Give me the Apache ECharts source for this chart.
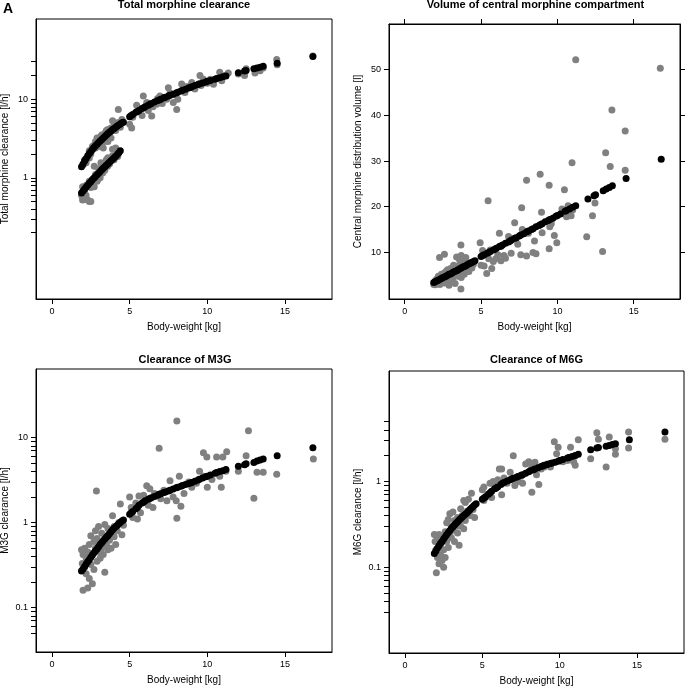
<!DOCTYPE html>
<html><head><meta charset="utf-8">
<script src="https://cdn.jsdelivr.net/npm/echarts@6.0.0/dist/echarts.min.js"></script>
<style>html,body{margin:0;padding:0;background:#fff}#c{width:685px;height:687px}</style>
</head><body><div id="c"></div>
<script>
// ---------- data ----------
const weightTicks = [0, 5, 10, 15];
const clTicks = [0.2,0.3,0.4,0.5,0.6,0.7,0.8,0.9,1,2,3,4,5,6,7,8,9,10,20,30];
const clTickLabels = [1, 10];
const vTicks = [10, 20, 30, 40, 50];
const m3gTicks = [0.05,0.06,0.07,0.08,0.09,0.1,0.2,0.3,0.4,0.5,0.6,0.7,0.8,0.9,1,2,3,4,5,6,7,8,9,10];
const m3gTickLabels = [0.1, 1, 10];
const m6gTicks = [0.03,0.04,0.05,0.06,0.07,0.08,0.09,0.1,0.2,0.3,0.4,0.5,0.6,0.7,0.8,0.9,1,2,3,4,5];
const m6gTickLabels = [0.1, 1];

// body-weights of the model-predicted points (black)
const predWeight = [1.9,2.0,2.1,2.2,2.3,2.4,2.5,2.6,2.7,2.8,2.9,3.0,3.1,3.2,3.3,3.4,3.5,3.6,3.7,3.8,3.9,4.0,4.1,4.2,4.3,4.4,4.5,4.6,
  5.0,5.1,5.2,5.4,5.5,5.6,5.8,5.9,6.0,6.2,6.3,6.4,6.6,6.8,6.9,7.0,7.2,7.3,7.5,7.6,7.8,8.0,8.1,8.3,8.4,8.6,8.8,8.9,9.0,9.2,9.4,9.5,9.7,9.9,10.0,10.2,10.5,10.6,10.8,11.0,11.2,
  12.0,12.4,12.5,13.0,13.2,13.4,13.6,14.5,16.8];
const lowGroupWeight = [1.9,2.0,2.1,2.2,2.3,2.4,2.5,2.6,2.7,2.8,2.9,3.0,3.1,3.2,3.3,3.4,3.5,3.6,3.7,3.8,3.9,4.0,4.1,4.2,4.3,4.4];

const clPred = [1.38,1.50,1.63,1.76,1.90,2.03,2.16,2.29,2.42,2.55,2.68,2.81,2.94,3.07,3.20,3.36,3.50,3.65,3.80,3.95,4.10,4.25,4.40,4.55,4.70,4.85,5.00,5.10,
  6.0,6.2,6.4,6.8,7.0,7.2,7.6,7.8,8.0,8.4,8.6,8.8,9.2,9.6,9.8,10.0,10.4,10.6,11.0,11.2,11.6,12.0,12.3,12.7,13.0,13.4,13.9,14.1,14.4,14.9,15.4,15.7,16.1,16.6,16.9,17.3,18.0,18.3,18.8,19.3,19.8,
  21.8,22.8,23.2,24.4,25.0,25.6,26.3,28.8,35.0];
const clPredLow = [0.64,0.68,0.72,0.76,0.80,0.85,0.89,0.94,0.99,1.04,1.09,1.14,1.20,1.26,1.32,1.38,1.44,1.51,1.58,1.65,1.72,1.80,1.88,1.98,2.08,2.20];
const vPred = [3.4,3.6,3.8,3.9,4.1,4.3,4.5,4.6,4.8,5.0,5.2,5.3,5.5,5.7,5.9,6.0,6.2,6.4,6.6,6.8,6.9,7.1,7.3,7.5,7.6,7.8,8.0,8.2,
  9.1,9.3,9.5,9.8,10.0,10.2,10.5,10.7,10.9,11.3,11.4,11.6,12.0,12.3,12.5,12.7,13.1,13.2,13.6,13.8,14.1,14.5,14.7,15.0,15.2,15.6,15.9,16.1,16.3,16.7,17.0,17.2,17.5,17.9,18.1,18.4,19.0,19.2,19.5,19.9,20.2,
  21.7,22.4,22.6,23.5,23.9,24.2,24.6,26.2,30.4];
const m3gPred = [0.27,0.285,0.305,0.325,0.345,0.365,0.39,0.415,0.44,0.465,0.49,0.52,0.55,0.58,0.61,0.64,0.67,0.70,0.74,0.78,0.82,0.86,0.89,0.93,0.97,1.0,1.04,1.07,
  1.25,1.3,1.35,1.45,1.5,1.6,1.7,1.75,1.8,1.88,1.92,1.96,2.03,2.1,2.15,2.18,2.25,2.28,2.35,2.4,2.48,2.56,2.6,2.68,2.72,2.8,2.88,2.92,2.96,3.06,3.17,3.22,3.34,3.45,3.5,3.62,3.8,3.87,3.98,4.08,4.2,
  4.6,4.8,4.9,5.1,5.3,5.45,5.6,6.1,7.6];
const m6gPred = [0.145,0.155,0.167,0.178,0.19,0.2,0.213,0.226,0.24,0.254,0.268,0.282,0.296,0.31,0.325,0.34,0.355,0.37,0.385,0.4,0.415,0.43,0.45,0.47,0.49,0.51,0.53,0.55,
  0.62,0.64,0.66,0.71,0.74,0.77,0.82,0.84,0.87,0.92,0.95,0.97,1.01,1.05,1.07,1.09,1.12,1.14,1.18,1.2,1.25,1.3,1.33,1.37,1.4,1.44,1.49,1.51,1.54,1.58,1.62,1.64,1.68,1.72,1.75,1.8,1.88,1.9,1.96,2.01,2.07,
  2.35,2.45,2.48,2.58,2.63,2.7,2.76,3.06,3.77];

// individual estimates (grey): [body-weight kg, value]
const clObs = [[2.0,1.45],[2.1,1.7],[2.2,1.55],[2.3,1.8],[2.4,1.78],[2.4,2.2],[2.5,2.0],[2.6,2.5],[2.6,2.3],[2.7,2.6],[2.8,2.4],[2.8,2.9],[2.9,2.6],[2.9,3.2],[3.0,2.5],[3.0,3.0],[3.1,2.8],[3.1,3.3],[3.2,2.6],[3.2,3.5],[3.3,3.0],[3.3,2.4],[3.4,3.7],[3.4,2.9],[3.5,3.2],[3.5,4.0],[3.6,2.9],[3.6,4.1],[3.7,3.5],[3.8,4.3],[3.8,3.2],[3.9,5.3],[3.9,4.0],[4.0,4.6],[4.1,4.0],[4.2,5.0],[4.27,7.4],[4.33,5.0],[4.4,4.4],[4.5,5.5],
  [1.9,0.6],[1.97,0.77],[1.97,0.52],[2.0,0.55],[2.1,0.65],[2.19,0.6],[2.2,0.8],[2.3,0.52],[2.4,0.5],[2.4,0.9],[2.5,0.75],[2.5,0.5],[2.6,0.95],[2.72,0.77],[2.72,1.4],[2.8,1.1],[2.9,0.9],[2.94,0.94],[3.0,1.3],[3.1,1.0],[3.15,1.55],[3.26,1.15],[3.3,1.4],[3.4,1.25],[3.5,1.7],[3.58,1.4],[3.6,1.8],[3.7,1.5],[3.8,1.7],[3.9,2.3],[3.9,1.9],[4.0,1.7],[4.1,2.4],[4.23,1.87],[4.3,2.1],
  [5.0,4.8],[5.13,4.3],[5.2,5.9],[5.24,6.4],[5.45,8.4],[5.67,7.4],[5.8,6.2],[5.88,11.0],[6.1,9.1],[6.2,7.2],[6.42,6.1],[6.5,8.0],[6.74,8.6],[6.8,10.2],[6.95,11.0],[7.1,8.8],[7.38,10.0],[7.49,14.0],[7.6,12.0],[7.81,9.1],[7.9,11.5],[8.03,7.4],[8.1,10.0],[8.35,15.6],[8.56,12.2],[8.7,14.5],[9.0,16.3],[9.2,13.5],[9.53,20.0],[9.6,15.0],[9.74,18.0],[10.0,16.0],[10.2,18.0],[10.4,15.5],[10.8,22.0],[10.93,17.2],[11.14,20.0],[11.35,21.5],
  [12.0,21.0],[12.4,20.0],[12.5,24.5],[13.07,21.5],[13.2,24.0],[13.4,23.0],[13.6,25.0],[14.47,32.0],[14.5,27.5],[16.8,35.5]];
const vObs = [[1.9,3.0],[2.0,3.8],[2.0,2.9],[2.1,4.2],[2.1,3.2],[2.2,3.5],[2.2,4.8],[2.28,8.9],[2.3,3.0],[2.4,4.0],[2.4,5.2],[2.5,3.6],[2.5,4.6],[2.6,9.6],[2.6,5.5],[2.6,3.3],[2.7,4.2],[2.7,5.8],[2.8,3.6],[2.8,6.2],[2.9,4.5],[2.9,2.8],[3.0,5.0],[3.0,6.5],[3.1,3.9],[3.1,5.8],[3.2,4.6],[3.2,7.2],[3.3,5.2],[3.3,3.2],[3.4,9.0],[3.4,6.3],[3.5,4.8],[3.5,7.0],[3.6,5.6],[3.6,8.3],[3.68,11.6],[3.68,2.0],[3.7,9.3],[3.7,4.5],[3.8,6.0],[3.8,7.6],[3.9,5.2],[3.9,8.2],[4.0,8.9],[4.0,6.5],[4.1,7.2],[4.2,5.8],[4.3,7.8],[4.4,6.6],[4.5,7.4],
  [4.94,12.1],[5.0,7.2],[5.1,10.4],[5.2,7.0],[5.37,5.4],[5.46,21.3],[5.5,8.6],[5.6,10.5],[5.7,6.5],[5.8,8.0],[5.96,8.6],[6.1,9.5],[6.2,14.2],[6.3,11.3],[6.3,8.2],[6.5,9.3],[6.6,8.7],[6.8,13.5],[6.97,9.8],[7.2,16.5],[7.3,13.0],[7.4,11.8],[7.6,9.5],[7.66,19.8],[7.7,15.0],[7.98,25.8],[7.98,9.2],[8.1,14.2],[8.4,10.0],[8.5,12.5],[8.6,9.7],[8.87,27.1],[8.96,18.8],[9.0,14.3],[9.46,24.7],[9.46,10.8],[9.5,15.6],[9.6,16.3],[9.8,13.7],[9.96,12.1],[10.3,19.5],[10.46,23.7],[10.6,17.8],[10.7,20.2],[10.9,18.0],[10.96,29.6],[11.0,19.3],[11.2,52.2],
  [11.92,13.4],[12.3,18.0],[12.46,20.8],[12.96,10.2],[13.16,31.8],[13.46,28.8],[13.57,41.2],[14.44,36.6],[14.44,28.0],[16.74,50.3]];
const m3gObs = [[1.9,0.48],[1.95,0.33],[2.0,0.16],[2.0,0.42],[2.1,0.5],[2.1,0.3],[2.2,0.38],[2.2,0.25],[2.3,0.17],[2.3,0.45],[2.4,0.22],[2.4,0.55],[2.5,0.32],[2.5,0.7],[2.6,0.19],[2.6,0.42],[2.7,0.6],[2.7,0.28],[2.8,0.5],[2.8,0.8],[2.86,2.35],[2.9,0.35],[2.9,0.65],[3.0,0.9],[3.0,0.45],[3.1,0.55],[3.1,0.38],[3.2,0.75],[3.2,0.5],[3.3,0.6],[3.3,0.42],[3.4,0.95],[3.4,0.26],[3.5,0.55],[3.5,0.7],[3.6,0.85],[3.6,0.48],[3.7,0.62],[3.8,0.75],[3.8,0.5],[3.9,1.2],[4.0,0.68],[4.0,0.9],[4.1,0.55],[4.2,0.8],[4.3,1.0],[4.4,1.65],[4.5,0.72],[4.6,0.93],
  [5.0,2.0],[5.1,1.5],[5.2,1.15],[5.4,1.7],[5.5,1.1],[5.6,2.05],[5.7,1.3],[5.9,2.1],[6.1,2.7],[6.2,1.6],[6.3,2.5],[6.5,1.5],[6.6,2.2],[6.9,7.5],[7.0,1.9],[7.2,2.4],[7.4,1.8],[7.6,3.1],[7.8,2.0],[8.04,15.7],[8.04,1.12],[8.0,1.8],[8.2,3.5],[8.3,1.55],[8.5,2.2],[8.8,3.0],[9.0,2.6],[9.3,2.9],[9.5,4.0],[9.75,6.6],[9.75,3.5],[9.97,5.9],[10.0,2.6],[10.3,3.2],[10.6,5.9],[10.8,3.5],[10.9,2.6],[11.0,5.9],[11.25,6.8],[11.2,4.0],
  [12.0,4.0],[12.5,6.1],[12.65,12.0],[13.0,1.93],[13.2,3.9],[13.6,3.9],[14.47,3.7],[16.83,5.6]];
const m6gObs = [[1.9,0.24],[1.95,0.2],[2.03,0.086],[2.0,0.16],[2.1,0.22],[2.1,0.13],[2.2,0.24],[2.2,0.11],[2.3,0.18],[2.3,0.14],[2.4,0.2],[2.4,0.12],[2.5,0.1],[2.5,0.16],[2.6,0.26],[2.6,0.13],[2.7,0.33],[2.7,0.2],[2.8,0.36],[2.8,0.17],[2.9,0.25],[2.9,0.42],[3.0,0.3],[3.0,0.22],[3.1,0.44],[3.1,0.27],[3.2,0.2],[3.2,0.35],[3.3,0.3],[3.4,0.25],[3.4,0.38],[3.5,0.18],[3.5,0.33],[3.6,0.48],[3.6,0.3],[3.7,0.4],[3.8,0.28],[3.8,0.6],[3.9,0.57],[3.9,0.35],[4.0,0.45],[4.1,0.62],[4.2,0.4],[4.3,0.73],[4.4,0.47],[4.5,0.38],
  [5.0,0.8],[5.1,0.86],[5.1,0.6],[5.3,0.7],[5.5,0.95],[5.6,0.65],[5.7,1.0],[5.8,0.85],[6.0,1.05],[6.1,1.4],[6.25,0.7],[6.25,1.4],[6.4,1.1],[6.6,0.95],[6.8,1.28],[7.0,2.0],[7.1,0.9],[7.3,1.0],[7.5,1.15],[7.6,0.95],[7.8,1.6],[8.0,1.7],[8.2,1.47],[8.2,0.75],[8.4,1.68],[8.5,1.2],[8.65,0.92],[8.8,1.4],[9.0,1.47],[9.2,1.6],[9.4,1.47],[9.65,2.9],[9.8,2.1],[9.9,2.5],[10.2,1.7],[10.5,1.75],[10.7,2.5],[10.9,1.7],[11.0,2.0],[11.0,1.54],[11.2,3.06],
  [12.0,1.84],[12.4,3.7],[12.5,3.1],[13.0,1.47],[13.2,3.3],[13.6,2.07],[13.6,2.4],[14.45,3.77],[14.45,2.45],[16.8,3.1]];

// ---------- chart ----------
const FONT = '"Liberation Sans", Arial, Helvetica, sans-serif';
const GREY = '#808080';
const pairs = (w, v) => v.map((y, i) => [w[i], y]);
const fmt = v => String(+Number(v).toPrecision(3));

const grids = [
  {left: 36, top: 19, width: 296, height: 280},
  {left: 389, top: 24, width: 291, height: 275},
  {left: 36, top: 369, width: 296, height: 283},
  {left: 389, top: 371, width: 295, height: 282}
].map(g => Object.assign({show: true, borderColor: '#000', borderWidth: 1, backgroundColor: '#fff', containLabel: false, outerBoundsMode: 'none'}, g));

function xAxis(gi, pos, withLabel) {
  return {
    gridIndex: gi, type: 'value', position: pos, min: -1.03, max: 18.03,
    name: withLabel ? 'Body-weight [kg]' : '', nameLocation: 'middle', nameGap: 23,
    nameTextStyle: {fontSize: 10, color: '#000', fontFamily: FONT},
    axisLine: {show: true, onZero: false, lineStyle: {color: '#000', width: 1}},
    axisTick: {show: true, inside: false, length: 5, lineStyle: {color: '#000', width: 1}, customValues: weightTicks},
    axisLabel: {show: withLabel, fontSize: 9, color: '#000', margin: 8, fontFamily: FONT, customValues: weightTicks},
    splitLine: {show: false}
  };
}
function yLog(gi, min, max, ticks, labels, name) {
  return {
    gridIndex: gi, type: 'log', logBase: 10, min: min, max: max, position: 'left',
    name: name, nameLocation: 'middle', nameGap: 26,
    nameTextStyle: {fontSize: 10, color: '#000', fontFamily: FONT},
    axisLine: {show: true, onZero: false, lineStyle: {color: '#000', width: 1}},
    axisTick: {show: true, inside: false, length: 5, lineStyle: {color: '#000', width: 1}, customValues: ticks},
    axisLabel: {show: true, fontSize: 9, color: '#000', margin: 8, fontFamily: FONT, customValues: labels, formatter: fmt},
    splitLine: {show: false}, minorTick: {show: false}
  };
}
function yLin(gi, pos, withLabel, name) {
  return {
    gridIndex: gi, type: 'value', position: pos, min: -0.2, max: 60,
    name: name, nameLocation: 'middle', nameGap: 26,
    nameTextStyle: {fontSize: 10, color: '#000', fontFamily: FONT},
    axisLine: {show: true, onZero: false, lineStyle: {color: '#000', width: 1}},
    axisTick: {show: true, inside: false, length: 5, lineStyle: {color: '#000', width: 1}, customValues: vTicks},
    axisLabel: {show: withLabel, fontSize: 9, color: '#000', margin: 8, fontFamily: FONT, customValues: vTicks},
    splitLine: {show: false}
  };
}

const xAxes = [xAxis(0, 'bottom', true), xAxis(1, 'bottom', true), xAxis(2, 'bottom', true), xAxis(3, 'bottom', true), xAxis(1, 'top', false)];
const yAxes = [
  yLog(0, 0.0286, 105, clTicks, clTickLabels, 'Total morphine clearance [l/h]'),
  yLin(1, 'left', true, 'Central morphine distribution volume [l]'),
  yLog(2, 0.03, 64, m3gTicks, m3gTickLabels, 'M3G clearance [l/h]'),
  yLog(3, 0.01, 19.4, m6gTicks, m6gTickLabels, 'M6G clearance [l/h]'),
  yLin(1, 'right', false, '')
];

function scatter(xi, yi, data, color) {
  return {type: 'scatter', xAxisIndex: xi, yAxisIndex: yi, data: data, symbol: 'circle', symbolSize: 7,
    itemStyle: {color: color, opacity: 1}, silent: true, clip: true, emphasis: {disabled: true}};
}
const series = [
  scatter(0, 0, clObs, GREY),
  scatter(0, 0, pairs(predWeight, clPred), '#000'),
  scatter(0, 0, pairs(lowGroupWeight, clPredLow), '#000'),
  scatter(1, 1, vObs, GREY),
  scatter(1, 1, pairs(predWeight, vPred), '#000'),
  scatter(2, 2, m3gObs, GREY),
  scatter(2, 2, pairs(predWeight, m3gPred), '#000'),
  scatter(3, 3, m6gObs, GREY),
  scatter(3, 3, pairs(predWeight, m6gPred), '#000')
];

function txt(text, x, y, size, bold, align) {
  return {type: 'text', x: x, y: y, silent: true,
    style: {text: text, font: (bold ? 'bold ' : '') + size + 'px ' + FONT, fill: '#000',
      align: align, textAlign: align, verticalAlign: 'middle', textVerticalAlign: 'middle'}};
}

const chart = echarts.init(document.getElementById('c'), null, {renderer: 'canvas'});
chart.setOption({
  animation: false,
  backgroundColor: '#fff',
  textStyle: {fontFamily: FONT},
  grid: grids,
  xAxis: xAxes,
  yAxis: yAxes,
  series: series,
  graphic: {elements: [
    txt('A', 3, 9, 14, true, 'left'),
    txt('Total morphine clearance', 184, 5, 11, true, 'center'),
    txt('Volume of central morphine compartment', 535.5, 5, 11, true, 'center'),
    txt('Clearance of M3G', 185, 360, 11, true, 'center'),
    txt('Clearance of M6G', 536.5, 360, 11, true, 'center')
  ]}
});
</script></body></html>
